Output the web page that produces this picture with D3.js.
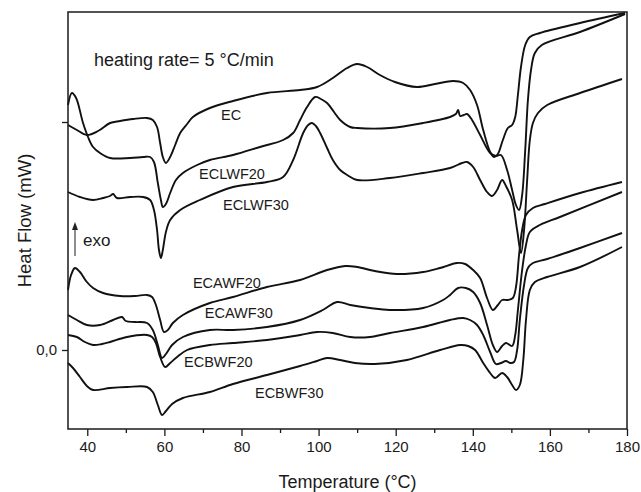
<!DOCTYPE html>
<html><head><meta charset="utf-8">
<script src="https://cdn.jsdelivr.net/npm/d3@7"></script>
<style>
html,body{margin:0;padding:0;background:#fff;}
svg{display:block;font-family:Arial,"Liberation Sans",sans-serif;}
</style></head>
<body>
<svg id="chart" width="641" height="492"></svg>
<script>
// ---- data (temperature °C, heat flow in arbitrary mW units) ----
const seriesNames = ["EC","ECLWF20","ECLWF30","ECAWF20","ECAWF30","ECBWF20","ECBWF30"];
const EC = [[35,2.25],[37.3,2.20],[39.9,2.15],[42.8,2.19],[45.9,2.27],[48.5,2.29],[51.9,2.31],[55.5,2.32],[57,2.30],[58.1,2.23],[58.9,2.07],[59.6,1.93],[60.4,1.87],[61.5,1.93],[62.8,2.05],[64.1,2.17],[65.9,2.26],[67.4,2.33],[71.8,2.42],[77.8,2.49],[86.6,2.57],[95.2,2.60],[99.6,2.63],[103.7,2.72],[107.4,2.82],[110,2.86],[112.6,2.83],[115.9,2.75],[119.8,2.68],[125.5,2.63],[130.2,2.66],[134.9,2.69],[137.5,2.67],[139.3,2.60],[141.1,2.45],[142.7,2.20],[144.5,1.98],[145.5,1.93],[146.5,1.96],[147.8,2.10],[149.1,2.22],[150.2,2.25],[151,2.33],[151.7,2.55],[152.5,2.83],[153.6,3.05],[154.8,3.13],[157.4,3.17],[167.8,3.27],[179.5,3.37]];
const ECLWF20 = [[35,2.45],[36,2.57],[37.1,2.52],[38.9,2.27],[40.2,2.13],[41.5,2.03],[43.3,1.97],[45.9,1.92],[51.1,1.92],[54.5,1.93],[56.3,1.93],[57.3,1.88],[58.3,1.67],[59.1,1.50],[59.6,1.43],[60.4,1.46],[61.5,1.57],[63,1.70],[64.8,1.77],[68.5,1.85],[71.8,1.90],[77.8,1.95],[84.8,2.03],[90.8,2.10],[93.4,2.17],[95.2,2.30],[97,2.43],[99.1,2.53],[100.6,2.51],[102.2,2.47],[104,2.38],[105.6,2.30],[108.2,2.23],[110,2.22],[118.5,2.22],[127.1,2.27],[134.1,2.33],[135.6,2.36],[136.2,2.40],[136.7,2.34],[137.7,2.35],[138.5,2.36],[139.8,2.30],[141.9,2.15],[144.5,1.97],[146,1.94],[147.3,1.95],[148.9,1.80],[150.2,1.60],[151.2,1.45],[152,1.40],[152.8,1.55],[153.6,2.00],[154.3,2.50],[155.1,2.80],[156.1,2.97],[157.9,3.05],[167.8,3.18],[179.5,3.36]];
const ECLWF30 = [[35,1.58],[38.1,1.53],[41.5,1.50],[44.1,1.52],[45.9,1.54],[46.7,1.56],[47.7,1.52],[51.1,1.53],[54.5,1.53],[56.3,1.50],[57.3,1.40],[58.1,1.20],[58.6,1.00],[59.1,0.92],[59.6,1.00],[60.4,1.18],[61.5,1.30],[64.1,1.40],[69.2,1.50],[77.8,1.63],[86.6,1.68],[90.8,1.73],[93.4,1.90],[96,2.17],[97.3,2.25],[98.3,2.27],[99.3,2.24],[100.4,2.17],[102.2,2.02],[103.7,1.90],[105.6,1.80],[107.4,1.75],[110,1.70],[118.5,1.72],[127.1,1.77],[134.1,1.82],[137.2,1.87],[138.5,1.88],[140.1,1.83],[141.9,1.70],[143.7,1.58],[145,1.54],[146.3,1.60],[147.6,1.70],[148.6,1.64],[150.2,1.50],[151.5,1.20],[152.5,0.97],[153.3,1.20],[154.1,1.70],[154.8,2.10],[155.6,2.27],[156.9,2.37],[159.3,2.45],[167.8,2.57],[178.7,2.71]];
const ECAWF20 = [[35,0.60],[35.8,0.75],[36.8,0.82],[38.1,0.78],[39.9,0.68],[41.5,0.62],[44.1,0.57],[48.5,0.54],[52.4,0.54],[55.5,0.55],[56.8,0.53],[57.8,0.45],[58.9,0.30],[59.9,0.18],[60.9,0.20],[62.2,0.27],[64.8,0.35],[71.8,0.47],[77.8,0.53],[86.6,0.63],[95.2,0.70],[102.2,0.80],[106.9,0.84],[110,0.83],[114.6,0.79],[120.3,0.76],[127.1,0.78],[131.5,0.82],[135.9,0.87],[138,0.86],[140.1,0.80],[141.9,0.72],[143.7,0.52],[145.2,0.40],[146.5,0.45],[147.6,0.50],[149.1,0.50],[150.4,0.52],[151.2,0.63],[152,0.95],[152.8,1.20],[153.8,1.35],[155.6,1.42],[158.7,1.46],[167.8,1.57],[178.7,1.68]];
const ECAWF30 = [[35,0.35],[37.3,0.30],[39.9,0.25],[43.3,0.25],[46.7,0.30],[49,0.33],[50,0.29],[52.4,0.28],[55.5,0.27],[57,0.20],[58.3,0.05],[59.4,-0.08],[60.4,-0.04],[62,0.05],[64.8,0.13],[71.8,0.20],[77.8,0.20],[86.6,0.23],[95.2,0.30],[101.1,0.40],[104.8,0.48],[108.2,0.45],[113.3,0.42],[118.5,0.40],[127.1,0.42],[132.3,0.50],[134.1,0.55],[136.2,0.62],[138.2,0.62],[140.1,0.58],[141.9,0.47],[143.7,0.25],[145.2,0.05],[146.3,-0.02],[147.6,0.04],[148.6,0.07],[150.2,0.04],[151,0.15],[151.7,0.40],[152.8,0.80],[153.8,1.05],[154.8,1.18],[157.4,1.25],[162.6,1.33],[178.7,1.58]];
const ECBWF20 = [[35,0.15],[37.3,0.13],[39.4,0.08],[41.5,0.05],[43.8,0.06],[45.9,0.08],[50.3,0.13],[55.5,0.15],[56.8,0.13],[57.8,0.07],[58.9,-0.07],[60.2,-0.17],[61.5,-0.13],[63.3,-0.07],[65.9,0.00],[71.8,0.05],[77.8,0.07],[86.6,0.10],[95.2,0.15],[99.6,0.18],[103.7,0.17],[108.2,0.13],[113.3,0.13],[118.5,0.17],[127.1,0.23],[134.1,0.30],[137.5,0.32],[139.3,0.30],[141.1,0.25],[142.7,0.15],[144.5,-0.02],[146,-0.14],[147.3,-0.13],[148.6,-0.11],[149.7,-0.13],[150.7,-0.12],[151.5,0.00],[152.2,0.30],[153.3,0.65],[154.3,0.82],[155.6,0.87],[159.3,0.91],[167.8,1.02],[178.7,1.17]];
const ECBWF30 = [[35,-0.13],[36.3,-0.18],[38.1,-0.27],[39.9,-0.36],[41.5,-0.40],[45.9,-0.38],[50.3,-0.37],[55.5,-0.37],[57,-0.42],[58.3,-0.55],[59.4,-0.65],[60.4,-0.61],[62,-0.54],[64.8,-0.48],[71.8,-0.42],[77.8,-0.34],[86.6,-0.25],[95.2,-0.16],[99.6,-0.11],[102.2,-0.08],[105.6,-0.10],[109.4,-0.13],[114.6,-0.14],[122.9,-0.10],[131.5,0.00],[136.7,0.05],[138.8,0.04],[140.6,0.00],[142.7,-0.13],[144.5,-0.23],[145.8,-0.28],[147.6,-0.23],[148.9,-0.27],[150.2,-0.35],[151.2,-0.40],[152.2,-0.35],[153.1,-0.10],[153.8,0.30],[154.8,0.60],[156.1,0.68],[159.3,0.73],[167.8,0.83],[178.7,1.03]];
const seriesData = [EC, ECLWF20, ECLWF30, ECAWF20, ECAWF30, ECBWF20, ECBWF30];

const xTicks = [40,60,80,100,120,140,160,180];
const xMinorTicks = [50,70,90,110,130,150,170];
const yTicks = [0, 2.28];
const yTickLabels = ["0,0", ""];
// label anchors in data coordinates (temperature, value)
const labelT = [74.7, 69.0, 75.2, 67.4, 70.5, 65.1, 83.5];
const labelV = [2.30, 1.715, 1.40, 0.62, 0.32, -0.17, -0.48];

// ---- layout ----
const W = 641, H = 492;
const margin = {left: 68, right: 14, top: 12, bottom: 63};
const pw = W - margin.left - margin.right;
const ph = H - margin.top - margin.bottom;

const svg = d3.select("#chart");
const g = svg.append("g").attr("transform", `translate(${margin.left},${margin.top})`);

const x = d3.scaleLinear().domain([35, 180]).range([0, pw]);
const y = d3.scaleLinear().domain([-0.79, 3.38]).range([ph, 0]);

const ink = "#1a1a1a";

// curves
const line = d3.line().x(d => x(d[0])).y(d => y(d[1])).curve(d3.curveCatmullRom.alpha(0.5));
g.append("g").selectAll("path").data(seriesData).join("path")
  .attr("d", line).attr("fill", "none").attr("stroke", "#111")
  .attr("stroke-width", 1.9).attr("stroke-linejoin", "round");

// series labels
g.append("g").selectAll("text").data(seriesNames).join("text")
  .attr("x", (d, i) => x(labelT[i])).attr("y", (d, i) => y(labelV[i]))
  .attr("font-size", 14.5).attr("fill", ink).text(d => d);

// x axis
const xAxis = d3.axisBottom(x).tickValues(xTicks).tickSize(7).tickPadding(5).tickFormat(d3.format("d"));
const xg = g.append("g").attr("transform", `translate(0,${ph})`).call(xAxis);
const xMinor = d3.axisBottom(x).tickValues(xMinorTicks).tickSize(4).tickFormat("");
const xmg = g.append("g").attr("transform", `translate(0,${ph})`).call(xMinor);
// y axis
const yAxis = d3.axisLeft(y).tickValues(yTicks).tickSize(6).tickPadding(5).tickFormat((d, i) => yTickLabels[i]);
const yg = g.append("g").call(yAxis);
[xg, xmg, yg].forEach(a => {
  a.select(".domain").remove();
  a.selectAll(".tick line").attr("stroke", ink).attr("stroke-width", 1.3);
  a.selectAll(".tick text").attr("font-size", 15).attr("fill", ink).attr("font-family", "Arial, 'Liberation Sans', sans-serif");
});

// frame
g.append("rect").attr("x", 0).attr("y", 0).attr("width", pw).attr("height", ph)
  .attr("fill", "none").attr("stroke", ink).attr("stroke-width", 1.5);

// axis titles
svg.append("text").attr("x", margin.left + pw / 2).attr("y", 488)
  .attr("text-anchor", "middle").attr("font-size", 18).attr("fill", ink).text("Temperature (°C)");
svg.append("text").attr("transform", `translate(31,${margin.top + ph / 2}) rotate(-90)`)
  .attr("text-anchor", "middle").attr("font-size", 18.5).attr("fill", ink).text("Heat Flow (mW)");

// annotations
svg.append("text").attr("x", 94).attr("y", 66).attr("font-size", 18).attr("fill", ink)
  .text("heating rate= 5 °C/min");
const ax = 75;
svg.append("line").attr("x1", ax).attr("x2", ax).attr("y1", 256).attr("y2", 229)
  .attr("stroke", "#444").attr("stroke-width", 1.2);
svg.append("path").attr("d", `M${ax - 3},${230} L${ax},${222} L${ax + 3},${230} Z`).attr("fill", "#222");
svg.append("text").attr("x", 83).attr("y", 246).attr("font-size", 17).attr("fill", ink).text("exo");
</script>
</body></html>
